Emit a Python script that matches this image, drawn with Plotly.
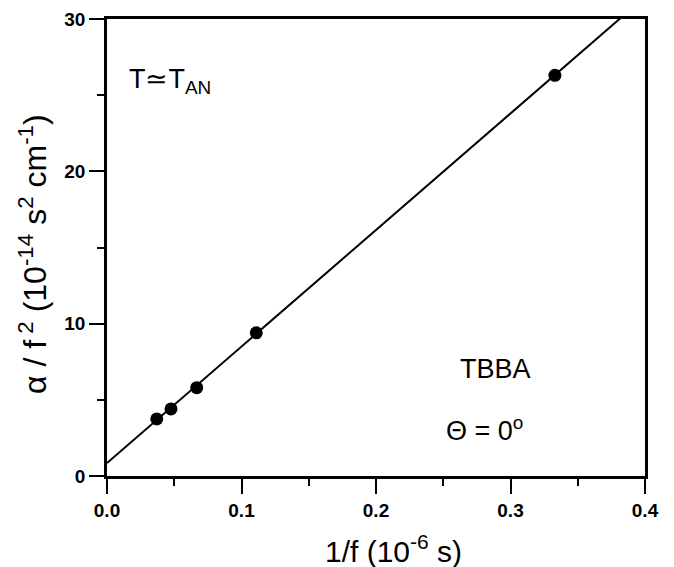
import numpy as np
import plotly.graph_objects as go

inv_f = [0.037, 0.0476, 0.0667, 0.111, 0.333]
alpha_f2 = [3.75, 4.4, 5.8, 9.4, 26.3]
fit_intercept = 0.85
fit_slope = 76.5
fit_x = [0.0, 0.4]

FONT = "Liberation Sans, Arial, sans-serif"

fig = go.Figure()
fit_y = [fit_intercept + fit_slope * x for x in fit_x]
fig.add_trace(go.Scatter(x=fit_x, y=fit_y, mode="lines",
                         line=dict(color="black", width=2), showlegend=False))
fig.add_trace(go.Scatter(x=inv_f, y=alpha_f2, mode="markers",
                         marker=dict(color="black", size=13), showlegend=False))

axis_common = dict(showgrid=False, zeroline=False, showline=True, linecolor="black",
                   linewidth=2.5, mirror=True, ticks="outside", ticklen=15, tickwidth=2,
                   tickcolor="black", automargin=False,
                   tickfont=dict(family=FONT, size=19, color="black", weight="bold"))

fig.update_xaxes(range=[0, 0.4], tickvals=[0, 0.1, 0.2, 0.3, 0.4],
                 ticktext=["0.0", "0.1", "0.2", "0.3", "0.4"],
                 ticklabelstandoff=0,
                 minor=dict(tickvals=[0.05, 0.15, 0.25, 0.35], ticks="outside", ticklen=7,
                            tickwidth=2, tickcolor="black"),
                 **axis_common)
fig.update_yaxes(range=[0, 30], tickvals=[0, 10, 20, 30],
                 minor=dict(tickvals=[5, 15, 25], ticks="outside", ticklen=7,
                            tickwidth=2, tickcolor="black"),
                 **axis_common)

PLOT_L, PLOT_R, PLOT_T, PLOT_B = 107, 645, 19, 476
W, H = PLOT_R - PLOT_L, PLOT_B - PLOT_T

# axis titles as annotations (paper coords)
fig.add_annotation(x=(393 - PLOT_L) / W, y=-(549 - PLOT_B) / H, xref="paper", yref="paper",
                   text="1/f (10<sup>-6</sup> s)", showarrow=False,
                   xanchor="center", yanchor="middle",
                   font=dict(family=FONT, size=30, color="black"))
fig.add_annotation(x=-(PLOT_L - 33) / W, y=(PLOT_B - 254) / H, xref="paper", yref="paper",
                   text="α / f<sup> 2</sup> (10<sup>-14</sup> s<sup>2</sup> cm<sup>-1</sup>)",
                   showarrow=False, textangle=-90, xanchor="center", yanchor="middle",
                   font=dict(family=FONT, size=32, color="black"))

fig.add_annotation(x=0.015, y=25.9, xref="x", yref="y", xanchor="left", yanchor="middle",
                   text="T≃T<sub>AN</sub>", showarrow=False,
                   font=dict(family=FONT, size=27, color="black"))
fig.add_annotation(x=0.289, y=7.0, xref="x", yref="y", xanchor="center", yanchor="middle",
                   text="TBBA", showarrow=False,
                   font=dict(family=FONT, size=27, color="black"))
fig.add_annotation(x=0.281, y=3.1, xref="x", yref="y", xanchor="center", yanchor="middle",
                   text="Θ = 0<sup>o</sup>", showarrow=False,
                   font=dict(family=FONT, size=27, color="black"))

fig.update_layout(width=674, height=567, plot_bgcolor="white", paper_bgcolor="white",
                  margin=dict(l=PLOT_L, r=674 - PLOT_R, t=PLOT_T, b=567 - PLOT_B))

fig.write_html("out.html")
